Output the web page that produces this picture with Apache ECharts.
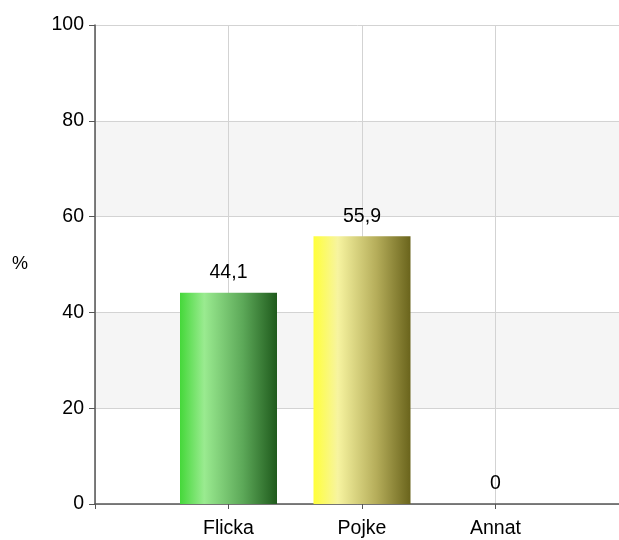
<!DOCTYPE html>
<html><head><meta charset="utf-8">
<script src="https://cdn.jsdelivr.net/npm/echarts@6/dist/echarts.min.js"></script>
<style>html,body{margin:0;padding:0;background:#fff;overflow:hidden}#c{width:619px;height:540px}</style>
</head><body><div id="c"></div>
<script>
var categories = ['Flicka', 'Pojke', 'Annat'];
var values = [44.1, 55.9, 0];
var yTicks = [0, 20, 40, 60, 80, 100];
var yName = '%';

var barGradients = [
  ['#45d83a', '#9aeb90', '#5ca858', '#1f5a1c'],
  ['#ffff3a', '#f7f4a0', '#b5ad5a', '#6a641c'],
  ['#dddddd', '#eeeeee', '#aaaaaa', '#666666']
];
function grad(c) {
  return new echarts.graphic.LinearGradient(0, 0, 1, 0, [
    {offset: 0, color: c[0]}, {offset: 0.25, color: c[1]},
    {offset: 0.65, color: c[2]}, {offset: 1, color: c[3]}
  ]);
}
var axisCats = [''].concat(categories, ['']);
var seriesData = [null].concat(values.map(function (v, i) {
  return {value: v, itemStyle: {color: grad(barGradients[i])}};
}), [null]);

var chart = echarts.init(document.getElementById('c'), null, {renderer: 'canvas'});
var font = 'Liberation Sans, Arial, sans-serif';
chart.setOption({
  animation: false,
  grid: {left: 95, width: 534, top: 25, height: 479, containLabel: false, outerBoundsMode: 'none'},
  xAxis: {
    type: 'category', data: axisCats, boundaryGap: false,
    axisLine: {lineStyle: {color: '#555', width: 1.5}},
    axisTick: {length: 5, lineStyle: {color: '#555'}},
    axisLabel: {color: '#000', fontSize: 19.5, fontFamily: font, margin: 15},
    splitLine: {show: true, lineStyle: {color: '#d3d3d3'}}
  },
  yAxis: {
    type: 'value', min: yTicks[0], max: yTicks[yTicks.length - 1], interval: 20,
    name: yName, nameLocation: 'middle', nameRotate: 0, nameGap: 67,
    nameTextStyle: {color: '#000', fontSize: 18, fontFamily: font},
    axisLine: {show: true, lineStyle: {color: '#555', width: 1.5}},
    axisTick: {show: true, length: 6, lineStyle: {color: '#555'}},
    axisLabel: {color: '#000', fontSize: 19.5, fontFamily: font, margin: 11},
    splitLine: {lineStyle: {color: '#d3d3d3'}},
    splitArea: {show: true, areaStyle: {color: ['#ffffff', '#f5f5f5']}}
  },
  series: [{
    type: 'bar', data: seriesData, barWidth: 97,
    label: {
      show: true, position: 'top', distance: 10, color: '#000', fontSize: 19.5, fontFamily: font,
      formatter: function (p) { return String(p.value).replace('.', ','); }
    }
  }]
});
</script></body></html>
